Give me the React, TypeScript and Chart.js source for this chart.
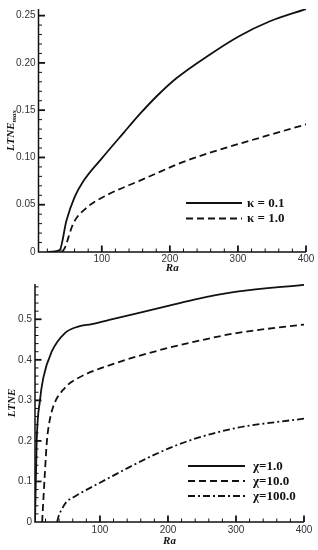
import React, { useEffect, useRef } from "react";
import { Chart, registerables } from "chart.js";
Chart.register(...registerables);

// ---------- Top panel: LTNE_max vs Ra ----------
const raKappa01 = [20, 38, 48, 60, 73, 100, 132, 156, 181, 210, 259, 301, 347, 400];
const ltneKappa01 = [0, 0.002, 0.033, 0.058, 0.075, 0.099, 0.126, 0.146, 0.165, 0.184, 0.209, 0.228, 0.244, 0.257];
const raKappa10 = [42, 46, 58, 78, 107, 156, 186, 215, 259, 333, 400];
const ltneKappa10 = [0, 0.005, 0.03, 0.047, 0.06, 0.0755, 0.085, 0.094, 0.105, 0.121, 0.135];
const topLabels = ["κ = 0.1", "κ = 1.0"];
const topXTicks = [100, 200, 300, 400];
const topYTicks = [0, 0.05, 0.1, 0.15, 0.2, 0.25];

// ---------- Bottom panel: LTNE vs Ra ----------
const raChi1 = [4.5, 7, 11.8, 16.6, 29, 48.5, 68, 88, 120, 188, 237, 301, 400];
const ltneChi1 = [0, 0.2, 0.3, 0.355, 0.42, 0.466, 0.482, 0.488, 0.501, 0.528, 0.548, 0.568, 0.585];
const raChi10 = [15, 19, 22, 25, 31, 48.5, 68, 120, 188, 237, 301, 400];
const ltneChi10 = [0, 0.12, 0.2, 0.24, 0.283, 0.331, 0.355, 0.39, 0.424, 0.444, 0.466, 0.487];
const raChi100 = [37, 39, 45, 51, 63, 100, 188, 237, 301, 400];
const ltneChi100 = [0, 0.013, 0.035, 0.05, 0.063, 0.097, 0.172, 0.204, 0.232, 0.255];
const bottomLabels = ["χ=1.0", "χ=10.0", "χ=100.0"];
const bottomXTicks = [100, 200, 300, 400];
const bottomYTicks = [0, 0.1, 0.2, 0.3, 0.4, 0.5];

const INK = "#111";
const SERIF = '"Liberation Serif", "Times New Roman", serif';
const SANS = '"Liberation Sans", Arial, sans-serif';

const tecplotAxes = {
  id: "tecplotAxes",
  afterDatasetsDraw(chart: any, _args: any, o: any) {
    const { ctx, chartArea: a } = chart;
    const xs = chart.scales.x;
    const ys = chart.scales.y;
    ctx.save();
    ctx.strokeStyle = INK;
    ctx.lineWidth = 1.5;
    ctx.beginPath();
    ctx.moveTo(a.left, a.top);
    ctx.lineTo(a.left, a.bottom);
    ctx.lineTo(a.right, a.bottom);
    ctx.stroke();

    const isMajor = (v: number, step: number) => Math.abs(v / step - Math.round(v / step)) < 1e-6;
    const x0 = Math.ceil(xs.min / o.xMinor) * o.xMinor;
    for (let v = x0; v <= xs.max + 1e-9; v += o.xMinor) {
      const px = xs.getPixelForValue(v);
      const maj = isMajor(v, o.xMajor);
      ctx.lineWidth = maj ? 1.8 : 1;
      ctx.beginPath();
      ctx.moveTo(px, a.bottom);
      ctx.lineTo(px, a.bottom - (maj ? 6.5 : 3.5));
      ctx.stroke();
    }
    const nY = Math.floor(ys.max / o.yMinor + 1e-6);
    for (let i = 1; i <= nY; i++) {
      const v = i * o.yMinor;
      const py = ys.getPixelForValue(v);
      const maj = isMajor(v, o.yMajor);
      ctx.lineWidth = maj ? 1.8 : 1;
      ctx.beginPath();
      ctx.moveTo(a.left, py);
      ctx.lineTo(a.left + (maj ? 6.5 : 3.5), py);
      ctx.stroke();
    }

    // axis titles
    ctx.fillStyle = INK;
    ctx.font = `italic bold 11px ${SERIF}`;
    ctx.textAlign = "center";
    ctx.textBaseline = "middle";
    ctx.fillText(o.xTitle, (a.left + a.right) / 2, a.bottom + o.xTitleOffset);

    ctx.save();
    ctx.translate(o.yTitleX, (a.top + a.bottom) / 2);
    ctx.rotate(-Math.PI / 2);
    ctx.font = `italic bold 11px ${SERIF}`;
    const mainW = ctx.measureText(o.yTitle).width;
    ctx.font = `italic bold 7px ${SERIF}`;
    const subW = o.ySub ? ctx.measureText(o.ySub).width : 0;
    const total = mainW + subW;
    ctx.textAlign = "left";
    ctx.font = `italic bold 11px ${SERIF}`;
    ctx.fillText(o.yTitle, -total / 2, 0);
    if (o.ySub) {
      ctx.font = `italic bold 7px ${SERIF}`;
      ctx.fillText(o.ySub, -total / 2 + mainW, 3);
    }
    ctx.restore();

    // legend
    const L = o.legend;
    chart.data.datasets.forEach((ds: any, i: number) => {
      const yy = L.y + i * L.dy;
      ctx.strokeStyle = INK;
      ctx.lineWidth = 1.8;
      ctx.setLineDash(ds.borderDash || []);
      ctx.beginPath();
      ctx.moveTo(L.x1, yy);
      ctx.lineTo(L.x2, yy);
      ctx.stroke();
      ctx.setLineDash([]);
      ctx.fillStyle = INK;
      ctx.font = `bold 13px ${SERIF}`;
      ctx.textAlign = "left";
      ctx.textBaseline = "middle";
      ctx.fillText(ds.label, L.tx, yy + 0.5);
    });
    ctx.restore();
  },
};

function series(label: string, ra: number[], v: number[], dash: number[]) {
  return {
    label,
    data: ra.map((r, i) => ({ x: r, y: v[i] })),
    borderColor: INK,
    borderWidth: 1.8,
    borderDash: dash,
    pointRadius: 0,
    fill: false,
    cubicInterpolationMode: "monotone" as const,
  };
}

function makeConfig(p: any) {
  return {
    type: "line" as const,
    data: { datasets: p.datasets },
    plugins: [tecplotAxes],
    options: {
      responsive: false,
      animation: false as const,
      devicePixelRatio: 1,
      layout: { padding: { top: p.padTop, right: p.padRight, left: 0, bottom: 0 } },
      plugins: {
        legend: { display: false },
        tooltip: { enabled: false },
        tecplotAxes: p.axes,
      },
      scales: {
        x: {
          type: "linear" as const,
          min: p.xMin,
          max: 400,
          grid: { display: false, drawTicks: false },
          border: { display: false },
          ticks: {
            padding: p.xPad,
            color: "#333",
            font: { family: SANS, size: 10 },
            maxRotation: 0,
            autoSkip: false,
          },
          afterBuildTicks: (s: any) => {
            s.ticks = p.xTicks.map((v: number) => ({ value: v }));
          },
          afterFit: (s: any) => {
            s.height = p.xHeight;
          },
        },
        y: {
          type: "linear" as const,
          min: 0,
          max: p.yMax,
          grid: { display: false, drawTicks: false },
          border: { display: false },
          ticks: {
            padding: 3,
            color: "#333",
            font: { family: SANS, size: 10 },
            autoSkip: false,
          },
          afterBuildTicks: (s: any) => {
            s.ticks = p.yTicks.map((v: number) => ({ value: v }));
          },
          afterFit: (s: any) => {
            s.width = p.yWidth;
          },
        },
      },
    },
  };
}

export default function App() {
  const topRef = useRef<HTMLCanvasElement>(null);
  const botRef = useRef<HTMLCanvasElement>(null);

  useEffect(() => {
    const top = new Chart(
      topRef.current as HTMLCanvasElement,
      makeConfig({
        datasets: [
          series(topLabels[0], raKappa01, ltneKappa01, []),
          series(topLabels[1], raKappa10, ltneKappa10, [7, 4]),
        ],
        padTop: 7,
        padRight: 12,
        xMin: 7,
        yMax: 0.257,
        xTicks: topXTicks,
        yTicks: topYTicks,
        xHeight: 23,
        yWidth: 38.5,
        xPad: 1,
        axes: {
          xMinor: 20,
          xMajor: 100,
          yMinor: 0.01,
          yMajor: 0.05,
          xTitle: "Ra",
          xTitleOffset: 16,
          yTitle: "LTNE",
          ySub: "max",
          yTitleX: 11,
          legend: { x1: 186, x2: 242, tx: 247, y: 203, dy: 15.5 },
        },
      }) as any
    );
    const bot = new Chart(
      botRef.current as HTMLCanvasElement,
      makeConfig({
        datasets: [
          series(bottomLabels[0], raChi1, ltneChi1, []),
          series(bottomLabels[1], raChi10, ltneChi10, [7, 4]),
          series(bottomLabels[2], raChi100, ltneChi100, [7, 3, 2, 3]),
        ],
        padTop: 2,
        padRight: 14,
        xMin: 4.5,
        yMax: 0.587,
        xTicks: bottomXTicks,
        yTicks: bottomYTicks,
        xHeight: 28,
        yWidth: 35,
        xPad: 2,
        axes: {
          xMinor: 20,
          xMajor: 100,
          yMinor: 0.02,
          yMajor: 0.1,
          xTitle: "Ra",
          xTitleOffset: 19.5,
          yTitle: "LTNE",
          ySub: "",
          yTitleX: 12,
          legend: { x1: 188, x2: 245, tx: 253, y: 191, dy: 15 },
        },
      }) as any
    );
    return () => {
      top.destroy();
      bot.destroy();
    };
  }, []);

  return (
    <div
      style={{
        position: "absolute",
        left: 0,
        top: 0,
        width: 318,
        height: 550,
        background: "#fff",
      }}
    >
      <canvas ref={topRef} width={318} height={275} style={{ display: "block" }} />
      <canvas ref={botRef} width={318} height={275} style={{ display: "block" }} />
    </div>
  );
}
